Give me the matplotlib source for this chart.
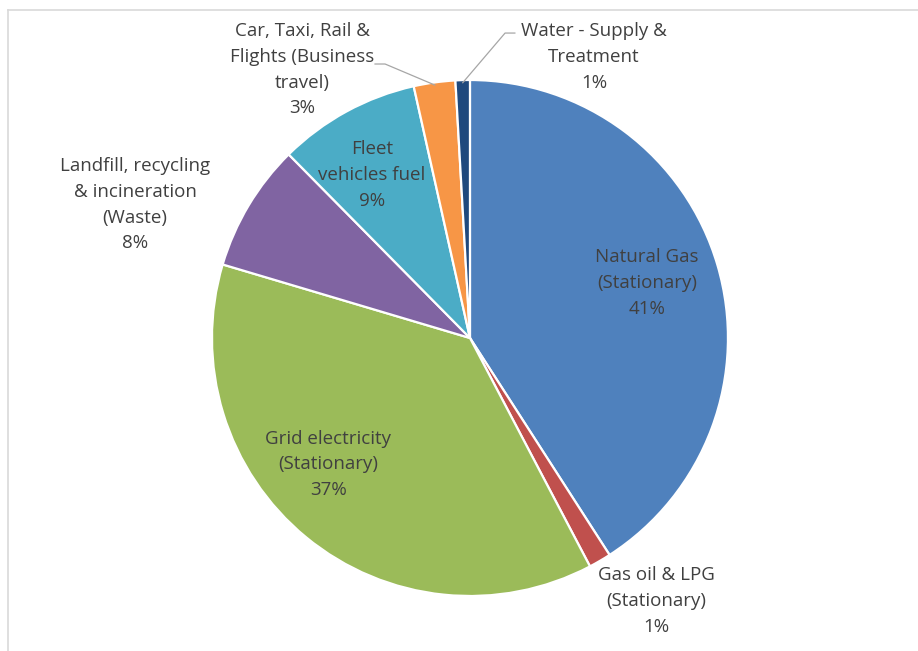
import numpy as np
import matplotlib.pyplot as plt

# slices, clockwise from 12 o'clock
labels = ['Natural Gas\n(Stationary)', 'Gas oil & LPG\n(Stationary)',
          'Grid electricity\n(Stationary)',
          'Landfill, recycling\n& incineration\n(Waste)',
          'Fleet\nvehicles fuel',
          'Car, Taxi, Rail &\nFlights (Business\ntravel)',
          'Water - Supply &\nTreatment']
shares = [40.9, 1.4, 37.3, 8.0, 8.9, 2.6, 0.9]
pct_text = ['41%', '1%', '37%', '8%', '9%', '3%', '1%']
colors = ['#4F81BD', '#C0504D', '#9BBB59', '#8064A2', '#4BACC6', '#F79646', '#1F497D']

# label centres in pie-radius units
label_pos = [(0.686, 0.213), (0.721, -1.019), (-0.55, -0.49), (-1.298, 0.516),
             (-0.38, 0.632), (-0.651, 1.039), (0.481, 1.089)]

plt.rcParams['font.family'] = ['Open Sans', 'DejaVu Sans']
txt_color = '#404040'

fig = plt.figure(figsize=(9.18, 6.51), dpi=100)
ax = fig.add_axes([0.2309, 0.0845, 0.5621, 0.7926])

wedges, _ = ax.pie(shares, colors=colors, startangle=90, counterclock=False,
                   wedgeprops=dict(edgecolor='white', linewidth=1.6))
ax.set_xlim(-1, 1)
ax.set_ylim(-1, 1)
ax.set_aspect('equal')
ax.axis('off')

for lab, pct, (x, y) in zip(labels, pct_text, label_pos):
    ax.text(x, y, lab + '\n' + pct, ha='center', va='center', fontsize=13.5,
            color=txt_color, linespacing=1.55, clip_on=False)

# leader lines for the two thin slices at the top
def mid_point(w):
    a = np.deg2rad((w.theta1 + w.theta2) / 2)
    return np.cos(a), np.sin(a)

for idx, pts in [(5, [(-0.368, 1.062), (-0.329, 1.062)]),
                 (6, [(0.174, 1.182), (0.136, 1.182)])]:
    ex, ey = mid_point(wedges[idx])
    xs = [p[0] for p in pts] + [ex * 0.99]
    ys = [p[1] for p in pts] + [ey * 0.99]
    ax.plot(xs, ys, color='#A6A6A6', lw=0.9, clip_on=False)

# light frame on top and left, as in the screenshot
fig.add_artist(plt.Line2D([7.5 / 918, 1], [1 - 9.5 / 651] * 2, color='#D9D9D9', lw=1.2))
fig.add_artist(plt.Line2D([7.5 / 918] * 2, [0, 1 - 9.5 / 651], color='#D9D9D9', lw=1.2))

fig.savefig('out.png', dpi=100, facecolor='white')
